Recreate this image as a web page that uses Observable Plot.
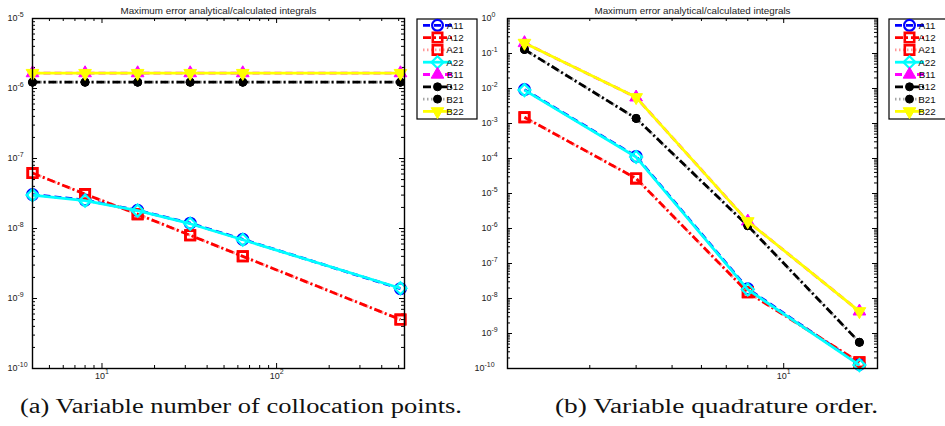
<!DOCTYPE html>
<html>
<head>
<meta charset="utf-8">
<script src="https://cdn.jsdelivr.net/npm/d3@7"></script>
<script src="https://cdn.jsdelivr.net/npm/@observablehq/plot@0.6"></script>
<style>
  html, body { margin: 0; padding: 0; background: #fff; }
  #fig { position: relative; width: 945px; height: 426px; overflow: hidden; background: #fff; }
  #fig svg { position: absolute; top: 0; max-width: none; }
  .caption { font-family: "Liberation Serif", serif; font-size: 20px; fill: #111; }
</style>
</head>
<body>
<div id="fig"></div>
<script>
// Series plotted in both panels (drawing order = legend order)
const seriesNames = ["A11", "A12", "A21", "A22", "B11", "B12", "B21", "B22"];

// (a) error vs. number of collocation points
const collocationPoints = [4, 8, 16, 32, 64, 512];
const a_A11 = [3.05e-8, 2.55e-8, 1.82e-8, 1.19e-8, 7.0e-9, 1.38e-9];
const a_A12 = [6.2e-8, 3.1e-8, 1.6e-8, 8.0e-9, 4.0e-9, 5.0e-10];
const a_A21 = [6.2e-8, 3.1e-8, 1.6e-8, 8.0e-9, 4.0e-9, 5.0e-10];
const a_A22 = [3.0e-8, 2.5e-8, 1.8e-8, 1.17e-8, 6.9e-9, 1.4e-9];
const a_B11 = [1.66e-6, 1.66e-6, 1.66e-6, 1.66e-6, 1.66e-6, 1.66e-6];
const a_B12 = [1.23e-6, 1.23e-6, 1.23e-6, 1.23e-6, 1.23e-6, 1.23e-6];
const a_B21 = [1.23e-6, 1.23e-6, 1.23e-6, 1.23e-6, 1.23e-6, 1.23e-6];
const a_B22 = [1.66e-6, 1.66e-6, 1.66e-6, 1.66e-6, 1.66e-6, 1.66e-6];

// (b) error vs. quadrature order
const quadratureOrder = [2, 4, 8, 16];
const b_A11 = [9.3e-3, 1.15e-4, 1.9e-8, 1.3e-10];
const b_A12 = [1.5e-3, 2.7e-5, 1.5e-8, 1.5e-10];
const b_A21 = [1.5e-3, 2.7e-5, 1.5e-8, 1.5e-10];
const b_A22 = [9.0e-3, 1.1e-4, 1.8e-8, 1.25e-10];
const b_B11 = [0.2, 5.6e-3, 1.6e-6, 4.3e-9];
const b_B12 = [0.13, 1.4e-3, 1.2e-6, 5.6e-10];
const b_B21 = [0.13, 1.4e-3, 1.2e-6, 5.6e-10];
const b_B22 = [0.2, 5.6e-3, 1.6e-6, 4.3e-9];

// Axis ticks
const yTicksA = [1e-10, 1e-9, 1e-8, 1e-7, 1e-6, 1e-5];
const yTicksB = [1e-10, 1e-9, 1e-8, 1e-7, 1e-6, 1e-5, 1e-4, 1e-3, 1e-2, 1e-1, 1];
const xTicksA = [10, 100];
const xTicksB = [10];
const xMinorA = [5, 6, 7, 8, 9, 20, 30, 40, 50, 60, 70, 80, 90, 200, 300, 400, 500];
const xMinorB = [3, 4, 5, 6, 7, 8, 9];

const titleText = "Maximum error analytical/calculated integrals";
const captionA = "(a) Variable number of collocation points.";
const captionB = "(b) Variable quadrature order.";

// Line / marker styles per series
const styles = {
  A11: {color: "#0000ff", dash: "7,4", symbol: "circle", r: 5.4, fill: "none", sw: 2.2},
  A12: {color: "#ff0000", dash: "8,3,2,3", symbol: "square", r: 5.3, fill: "none", sw: 2.6},
  A21: {color: "#ff0000", dash: "1.5,2.5", opacity: 0.4, symbol: "square", r: 5.3, fill: "none", sw: 2.6},
  A22: {color: "#00ffff", dash: null, symbol: "diamond2", r: 5.4, fill: "none", sw: 2.2},
  B11: {color: "#ff00ff", dash: "7,4", symbol: "triangle", r: 4.7, fill: "#ff00ff", sw: 1},
  B12: {color: "#000000", dash: "8,3,2,3", symbol: "circle", r: 4, fill: "#000000", sw: 1},
  B21: {color: "#000000", dash: "1.5,2.5", opacity: 0.35, symbol: "circle", r: 4, fill: "#000000", sw: 1},
  B22: {color: "#ffff00", dash: null, symbol: "triangle", rotate: 180, r: 4.7, fill: "#ffff00", sw: 1}
};
const lineWidth = 2.8;

function minorLogTicks(lo, hi) {
  const out = [];
  for (let e = lo; e < hi; e++) for (let k = 2; k <= 9; k++) out.push(k * Math.pow(10, e));
  return out;
}

function panel({xs, cols, xDomain, yDomain, xTicks, yTicks, xMinor, width, height, ml, mr, mt, mb, yLabelDx, yLabelDxWide}) {
  const rows = seriesNames.flatMap(s => xs.map((x, i) => ({series: s, x, y: cols[s][i]})));
  const pw = width - ml - mr, ph = height - mt - mb;
  const e0 = Math.round(Math.log10(yDomain[0])), e1 = Math.round(Math.log10(yDomain[1]));
  const yMinor = minorLogTicks(e0, e1);
  const exp = d => "10^" + Math.round(Math.log10(d));
  const marks = [];
  // inward ticks on all four sides
  for (const [vals, len] of [[yTicks, 5], [yMinor, 3]]) {
    marks.push(Plot.tickY(vals, {y: d => d, insetRight: pw - len, stroke: "#000", strokeWidth: 1}));
    marks.push(Plot.tickY(vals, {y: d => d, insetLeft: pw - len, stroke: "#000", strokeWidth: 1}));
  }
  for (const [vals, len] of [[xTicks, 5], [xMinor, 3]]) {
    marks.push(Plot.tickX(vals, {x: d => d, insetTop: ph - len, stroke: "#000", strokeWidth: 1}));
    marks.push(Plot.tickX(vals, {x: d => d, insetBottom: ph - len, stroke: "#000", strokeWidth: 1}));
  }
  // series: line then markers, in legend order
  for (const s of seriesNames) {
    const st = styles[s];
    const data = rows.filter(r => r.series === s);
    marks.push(Plot.line(data, {
      x: "x", y: "y", stroke: st.color, strokeWidth: lineWidth,
      strokeDasharray: st.dash, strokeOpacity: st.opacity ?? 1,
      strokeLinecap: "butt", strokeLinejoin: "miter"
    }));
    marks.push(Plot.dot(data, {
      x: "x", y: "y", symbol: st.symbol, r: st.r, stroke: st.color, fill: st.fill,
      strokeWidth: st.sw, rotate: st.rotate ?? 0
    }));
  }
  marks.push(Plot.frame({stroke: "#000", strokeWidth: 1.4}));
  // tick labels
  const narrow = yTicks.filter(d => Math.round(Math.log10(d)) > -10);
  const wide = yTicks.filter(d => Math.round(Math.log10(d)) <= -10);
  marks.push(Plot.text(narrow, {y: d => d, frameAnchor: "left", dx: yLabelDx, textAnchor: "start", text: exp, fontSize: 9, fill: "#222"}));
  marks.push(Plot.text(wide, {y: d => d, frameAnchor: "left", dx: yLabelDxWide, textAnchor: "start", text: exp, fontSize: 9, fill: "#222"}));
  marks.push(Plot.text(xTicks, {x: d => d, frameAnchor: "bottom", dy: 10, text: exp, fontSize: 9, fill: "#222"}));
  // title
  marks.push(Plot.text([titleText], {frameAnchor: "top", dy: -11, text: d => d, fontSize: 9.8, fill: "#222"}));

  const svg = Plot.plot({
    width, height,
    marginLeft: ml, marginRight: mr, marginTop: mt, marginBottom: mb,
    style: {background: "none", overflow: "visible", fontFamily: "'Liberation Sans', Arial, sans-serif", maxWidth: "none"},
    x: {type: "log", domain: xDomain, axis: null},
    y: {type: "log", domain: yDomain, axis: null},
    marks
  });

  // render 10^e labels with a raised exponent
  const ns = "http://www.w3.org/2000/svg";
  svg.querySelectorAll("text").forEach(t => {
    const m = /^10\^(-?\d+)$/.exec(t.textContent);
    if (!m) return;
    t.textContent = "";
    const base = document.createElementNS(ns, "tspan");
    base.textContent = "10";
    const sup = document.createElementNS(ns, "tspan");
    sup.setAttribute("dy", "-4.3");
    sup.setAttribute("font-size", "7");
    sup.textContent = m[1];
    t.appendChild(base);
    t.appendChild(sup);
  });
  return svg;
}

function legend(svg, x0, y0, boxW) {
  const g = d3.select(svg).append("g").style("font-family", "'Liberation Sans', Arial, sans-serif");
  g.append("rect").attr("x", x0).attr("y", y0).attr("width", boxW).attr("height", 100)
    .attr("fill", "#fff").attr("stroke", "#000").attr("stroke-width", 1.2);
  const symbols = {circle: d3.symbolCircle, square: d3.symbolSquare, diamond2: d3.symbolDiamond2, triangle: d3.symbolTriangle};
  seriesNames.forEach((s, i) => {
    const st = styles[s];
    const y = y0 + 6.3 + i * 12.3;
    const lx0 = x0 + 6, lx1 = x0 + 35, mx = x0 + 20.5;
    g.append("line").attr("x1", lx0).attr("x2", lx1).attr("y1", y).attr("y2", y)
      .attr("stroke", st.color).attr("stroke-width", lineWidth)
      .attr("stroke-dasharray", st.dash).attr("stroke-opacity", st.opacity ?? 1);
    g.append("path")
      .attr("d", d3.symbol(symbols[st.symbol], st.r * st.r * Math.PI)())
      .attr("transform", `translate(${mx},${y}) rotate(${st.rotate ?? 0})`)
      .attr("fill", st.fill).attr("stroke", st.color).attr("stroke-width", st.sw);
    g.append("text").attr("x", x0 + 38).attr("y", y).attr("dy", "0.35em")
      .attr("font-size", 9.8).attr("fill", "#111").text(s);
  });
}

const fig = document.getElementById("fig");

const svgA = panel({
  xs: collocationPoints,
  cols: {A11: a_A11, A12: a_A12, A21: a_A21, A22: a_A22, B11: a_B11, B12: a_B12, B21: a_B21, B22: a_B22},
  xDomain: [4, 540], yDomain: [1e-10, 1e-5],
  xTicks: xTicksA, yTicks: yTicksA, xMinor: xMinorA,
  width: 480, height: 392, ml: 32, mr: 76, mt: 18, mb: 24,
  yLabelDx: -25, yLabelDxWide: -25
});
legend(svgA, 417, 19, 60);
svgA.style.left = "0px";

const svgB = panel({
  xs: quadratureOrder,
  cols: {A11: b_A11, A12: b_A12, A21: b_A21, A22: b_A22, B11: b_B11, B12: b_B12, B21: b_B21, B22: b_B22},
  xDomain: [1.8, 17.9], yDomain: [1e-10, 1],
  xTicks: xTicksB, yTicks: yTicksB, xMinor: xMinorB,
  width: 475, height: 392, ml: 37, mr: 68, mt: 18, mb: 24,
  yLabelDx: -26, yLabelDxWide: -33
});
legend(svgB, 419, 19, 70);
svgB.style.left = "470px";

fig.appendChild(svgA);
fig.appendChild(svgB);

// sub-figure captions, stretched to the width of the wider roman face
const cap = d3.select(fig).append("svg")
  .attr("width", 945).attr("height", 426)
  .style("left", "0px").style("pointer-events", "none");
cap.append("text").attr("class", "caption").attr("x", 20).attr("y", 413)
  .attr("textLength", 442).attr("lengthAdjust", "spacingAndGlyphs")
  .text(captionA);
cap.append("text").attr("class", "caption").attr("x", 555).attr("y", 413)
  .attr("textLength", 323).attr("lengthAdjust", "spacingAndGlyphs")
  .text(captionB);
</script>
</body>
</html>
